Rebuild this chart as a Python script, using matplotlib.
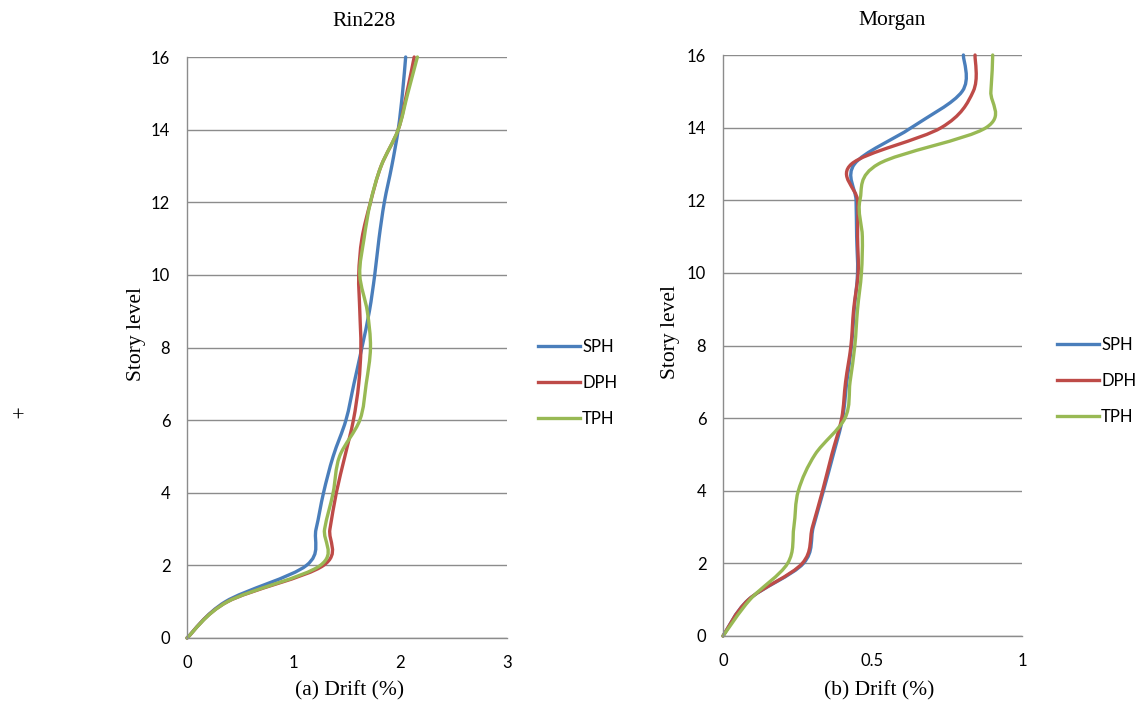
import matplotlib
matplotlib.use("Agg")
import matplotlib.pyplot as plt
from matplotlib.path import Path
from matplotlib.patches import PathPatch
from matplotlib.lines import Line2D

W_PX, H_PX, DPI = 1136, 706, 100

# story levels 0..16, drift (%)
levels = list(range(17))

rin_sph = [0, 0.36, 1.12, 1.21, 1.28, 1.37, 1.49, 1.565, 1.64, 1.71, 1.76, 1.80, 1.85, 1.92, 1.98, 2.02, 2.05]
rin_dph = [0, 0.38, 1.28, 1.34, 1.40, 1.48, 1.56, 1.61, 1.63, 1.62, 1.61, 1.64, 1.72, 1.82, 1.98, 2.06, 2.13]
rin_tph = [0, 0.38, 1.25, 1.29, 1.37, 1.43, 1.62, 1.68, 1.72, 1.69, 1.62, 1.66, 1.72, 1.82, 1.98, 2.07, 2.16]

mor_sph = [0, 0.085, 0.269, 0.302, 0.336, 0.369, 0.400, 0.414, 0.430, 0.439, 0.450, 0.447, 0.445, 0.44, 0.63, 0.80, 0.804]
mor_dph = [0, 0.085, 0.265, 0.299, 0.333, 0.364, 0.397, 0.410, 0.428, 0.437, 0.452, 0.450, 0.450, 0.43, 0.73, 0.837, 0.843]
mor_tph = [0, 0.090, 0.216, 0.237, 0.252, 0.308, 0.408, 0.425, 0.441, 0.450, 0.463, 0.466, 0.458, 0.52, 0.88, 0.896, 0.902]

series_names = ["SPH", "DPH", "TPH"]
COLS = ["#4A7EBB", "#BE4B48", "#98B954"]
LW = 2.4
SERIF = "Liberation Serif"
SERIF_SIZE = 15.5


def smooth_path(xs, ys):
    # Excel-style smoothed line: cubic bezier through the points
    pts = list(zip(xs, ys))
    n = len(pts)
    verts = [pts[0]]
    codes = [Path.MOVETO]
    for i in range(n - 1):
        p0 = pts[i - 1] if i > 0 else pts[i]
        p1 = pts[i]
        p2 = pts[i + 1]
        p3 = pts[i + 2] if i + 2 < n else pts[i + 1]
        c1 = (p1[0] + (p2[0] - p0[0]) / 6, p1[1] + (p2[1] - p0[1]) / 6)
        c2 = (p2[0] - (p3[0] - p1[0]) / 6, p2[1] - (p3[1] - p1[1]) / 6)
        verts += [c1, c2, p2]
        codes += [Path.CURVE4] * 3
    return Path(verts, codes)


def ftext(x, y, s, **kw):
    # text placed in figure pixels (origin top-left)
    fig.text(x / W_PX, 1 - y / H_PX, s, ha="center", va="center", **kw)


fig = plt.figure(figsize=(W_PX / DPI, H_PX / DPI), dpi=DPI)
fig.patch.set_facecolor("white")

panels = [
    dict(rect=(187, 57, 507, 638), data=[rin_sph, rin_dph, rin_tph], xmax=3,
         xticks=[0, 1, 2, 3], xlabels=["0", "1", "2", "3"],
         title=("Rin228", 364, 21), xlabel=("(a) Drift (%)", 350, 691),
         ylabel=("Story level", 137, 334), leg=(538, 383)),
    dict(rect=(723, 55, 1022, 636), data=[mor_sph, mor_dph, mor_tph], xmax=1,
         xticks=[0, 0.5, 1], xlabels=["0", "0.5", "1"],
         title=("Morgan", 892, 21), xlabel=("(b) Drift (%)", 879, 691),
         ylabel=("Story level", 670, 332), leg=(1057, 381)),
]

for p in panels:
    x0, y0, x1, y1 = p["rect"]
    ax = fig.add_axes([x0 / W_PX, 1 - y1 / H_PX, (x1 - x0) / W_PX, (y1 - y0) / H_PX])
    ax.set_xlim(0, p["xmax"])
    ax.set_ylim(0, 16)
    ax.set_yticks(range(0, 17, 2))
    ax.set_xticks(p["xticks"])
    ax.set_xticklabels(p["xlabels"])
    ax.yaxis.grid(True, color="#8C8C8C", lw=1.0)
    ax.set_axisbelow(True)
    for s in ["top", "right"]:
        ax.spines[s].set_visible(False)
    for s in ["left", "bottom"]:
        ax.spines[s].set_color("#8C8C8C")
        ax.spines[s].set_linewidth(1.0)
    ax.tick_params(length=0, labelsize=12, colors="black", labelfontfamily="Lato")
    ax.tick_params(axis="y", pad=12)
    ax.tick_params(axis="x", pad=12)

    for vals, c in zip(p["data"], COLS):
        ax.add_patch(PathPatch(smooth_path(vals, levels), facecolor="none",
                               edgecolor=c, lw=LW, capstyle="round", joinstyle="round",
                               clip_on=False))

    t, tx, ty = p["title"]
    ftext(tx, ty, t, fontsize=SERIF_SIZE, family=SERIF)
    t, tx, ty = p["xlabel"]
    ftext(tx, ty, t, fontsize=SERIF_SIZE, family=SERIF)
    t, tx, ty = p["ylabel"]
    ftext(tx, ty, t, fontsize=SERIF_SIZE, family=SERIF, rotation=90)

    handles = [Line2D([], [], color=c, lw=LW) for c in COLS]
    lx, ly = p["leg"]
    fig.legend(handles, series_names, loc="center left",
               bbox_to_anchor=(lx / W_PX, 1 - ly / H_PX), frameon=False,
               borderpad=0, borderaxespad=0, handlelength=2.5, handletextpad=0.15,
               labelspacing=1.2, prop={"family": "Lato", "size": 12})

ftext(18, 417, "+", fontsize=16, family=SERIF)

fig.savefig("out.png", dpi=DPI)
